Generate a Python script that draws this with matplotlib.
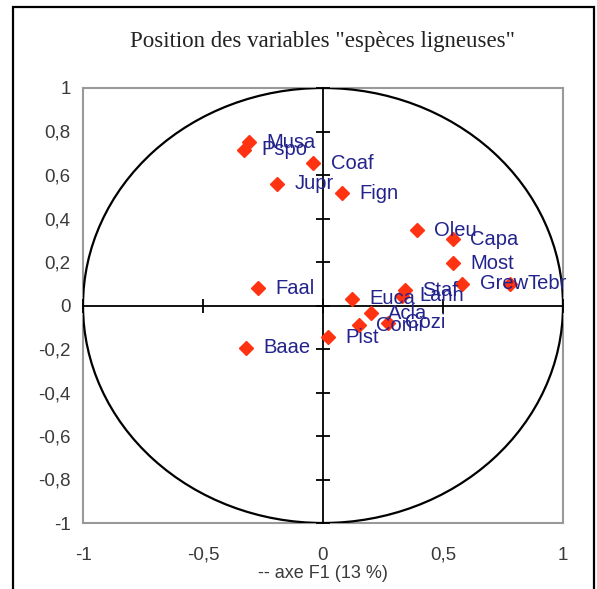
import matplotlib
matplotlib.use('Agg')
import matplotlib.pyplot as plt
from matplotlib.patches import Circle, Rectangle
from matplotlib.ticker import FuncFormatter

# coordinates on F1 / F2
names = ['Musa', 'Pspo', 'Coaf', 'Jupr', 'Fign', 'Oleu', 'Capa', 'Most',
         'Grew', 'Tebr', 'Staf', 'Lann', 'Euca', 'Acla', 'Comi', 'Cozi',
         'Pist', 'Faal', 'Baae']
f1 = [-0.31, -0.33, -0.04, -0.19, 0.08, 0.39, 0.54, 0.54,
      0.58, 0.78, 0.34, 0.33, 0.12, 0.20, 0.15, 0.27,
      0.02, -0.27, -0.32]
f2 = [0.75, 0.715, 0.655, 0.56, 0.515, 0.345, 0.305, 0.195,
      0.10, 0.10, 0.07, 0.045, 0.03, -0.035, -0.09, -0.08,
      -0.145, 0.08, -0.195]

xticks = [-1, -0.5, 0, 0.5, 1]
yticks = [-1, -0.8, -0.6, -0.4, -0.2, 0, 0.2, 0.4, 0.6, 0.8, 1]

W, H = 597, 589
fig = plt.figure(figsize=(W / 100, H / 100), dpi=100)
pos = [83 / W, (H - 523) / H, 480 / W, 435 / H]

comma = FuncFormatter(lambda v, p: ('%g' % round(v, 1)).replace('.', ','))

# frame axes with tick labels
ax = fig.add_axes(pos)
ax.set_xlim(-1, 1)
ax.set_ylim(-1, 1)
ax.set_xticks(xticks)
ax.set_yticks(yticks)
ax.xaxis.set_major_formatter(comma)
ax.yaxis.set_major_formatter(comma)
ax.tick_params(length=0, labelsize=13.5, labelcolor='#3a3a3a')
ax.tick_params(axis='x', pad=17)
ax.tick_params(axis='y', pad=9)
for lbl in ax.get_xticklabels() + ax.get_yticklabels():
    lbl.set_family('Liberation Sans')
for sp in ax.spines.values():
    sp.set_color('#999999')
    sp.set_linewidth(1.5)
ax.set_xlabel('-- axe F1 (13 %)', family='Liberation Sans', fontsize=13,
              color='#3a3a3a', labelpad=1)

# crossing axes through the origin
axc = fig.add_axes(pos, facecolor='none')
axc.set_xlim(-1, 1)
axc.set_ylim(-1, 1)
axc.set_xticks(xticks)
axc.set_yticks(yticks)
axc.spines['left'].set_position(('data', 0))
axc.spines['bottom'].set_position(('data', 0))
axc.spines['top'].set_visible(False)
axc.spines['right'].set_visible(False)
for s in ['left', 'bottom']:
    axc.spines[s].set_linewidth(1.3)
axc.tick_params(direction='inout', length=10, width=1.3,
                labelleft=False, labelbottom=False)

axc.add_patch(Circle((0, 0), 1, fill=False, color='black', lw=1.6))

axc.plot(f1, f2, 'D', color='#ff3311', ms=7, zorder=3)
for n, x, y in zip(names, f1, f2):
    axc.annotate(n, (x, y), xytext=(12.5, 0), textcoords='offset points',
                 va='center', ha='left', fontsize=14.5, color='#23238c',
                 family='Liberation Sans', zorder=4)

fig.text(323 / W, 1 - 42 / H, 'Position des variables "espèces ligneuses"',
         ha='center', va='center', family='Liberation Serif', fontsize=16.5,
         color='#222222')

# outer border
fig.add_artist(Rectangle((13 / W, -0.05), 581 / W, 1.05 - 7 / H,
                         transform=fig.transFigure, fill=False,
                         color='black', lw=1.6))

fig.savefig('out.png', dpi=100)
